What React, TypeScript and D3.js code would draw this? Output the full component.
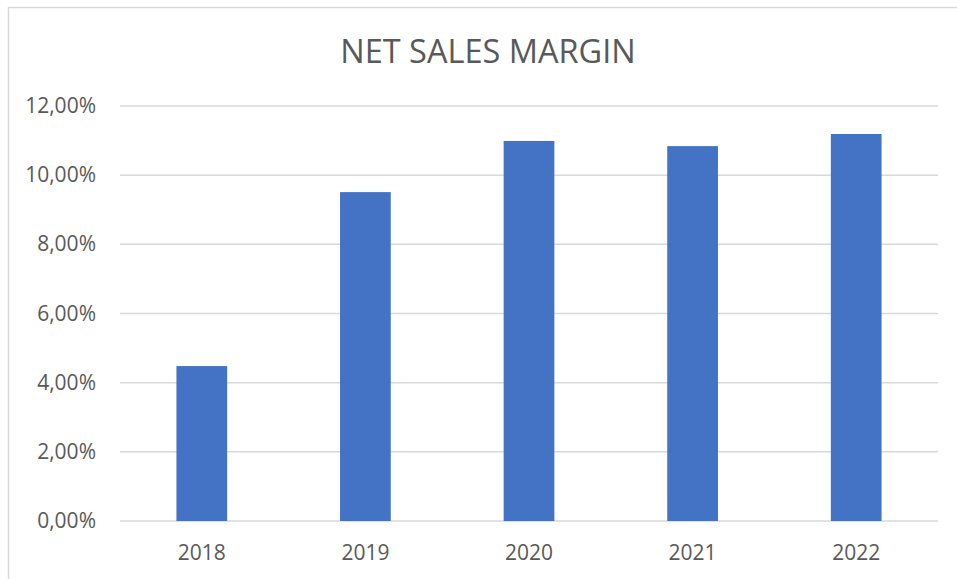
import React from "react";
import * as d3 from "d3";

const years = ["2018", "2019", "2020", "2021", "2022"];
const margins = [4.48, 9.51, 10.99, 10.84, 11.19];
const yTicks = [0, 2, 4, 6, 8, 10, 12];
const title = "NET SALES MARGIN";

const W = 957;
const H = 579;
const plot = { left: 120, right: 938, top: 106, bottom: 521 };

export default function App() {
  const x = d3
    .scaleBand<string>()
    .domain(years)
    .range([plot.left, plot.right])
    .paddingInner(0.69)
    .paddingOuter(0.345);
  const y = d3.scaleLinear().domain([0, 12]).range([plot.bottom, plot.top]);
  const fmt = (v: number) => v.toFixed(2).replace(".", ",") + "%";
  const font = "'Open Sans', sans-serif";
  return (
    <svg
      width={W}
      height={H}
      style={{ position: "absolute", left: 0, top: 0, background: "#fff" }}
    >
      <rect x={8.5} y={7.5} width={W + 10} height={H + 10} fill="#fff" stroke="#d9d9d9" strokeWidth={1.5} />
      <text x={488} y={63} textAnchor="middle" fontFamily={font} fontSize={32.5} fill="#595959">
        {title}
      </text>
      {yTicks.map((t) => (
        <g key={t}>
          <line x1={plot.left} x2={plot.right} y1={y(t)} y2={y(t)} stroke="#d9d9d9" strokeWidth={1.5} />
          <text x={96} y={y(t) + 7} textAnchor="end" fontFamily={font} fontSize={21} fill="#595959">
            {fmt(t)}
          </text>
        </g>
      ))}
      {years.map((yr, i) => (
        <g key={yr}>
          <rect x={x(yr)} y={y(margins[i])} width={x.bandwidth()} height={y(0) - y(margins[i])} fill="#4472c4" />
          <text x={(x(yr) as number) + x.bandwidth() / 2} y={560} textAnchor="middle" fontFamily={font} fontSize={21} fill="#595959">
            {yr}
          </text>
        </g>
      ))}
    </svg>
  );
}
